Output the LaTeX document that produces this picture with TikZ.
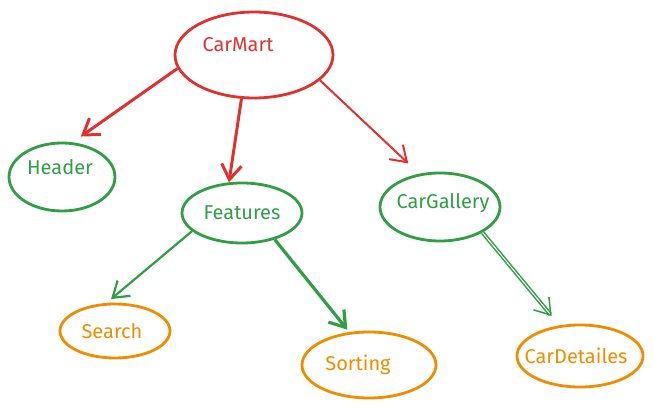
\documentclass[tikz,border=0pt]{standalone}
\usepackage{fontspec}
\setmainfont{Fira Sans}
\usepackage{xcolor}
\usetikzlibrary{shapes.geometric,arrows.meta}
\definecolor{xred}{HTML}{E03131}
\definecolor{xgreen}{HTML}{2F9E44}
\definecolor{xorange}{HTML}{F08C00}
\tikzset{
  bubble/.style={ellipse, draw, line width=2.8pt, inner sep=0pt},
  link/.style={-{Straight Barb[length=15pt,width=20pt]}, line width=2.2pt},
}

\begin{document}
\begin{tikzpicture}[x=1pt,y=-1pt,font=\fontsize{20}{24}\selectfont]
            \useasboundingbox (0,0) rectangle (654,411);
            % top level
            \node [bubble, xred, minimum width=158pt, minimum height=86pt, label={[text=xred, xshift=-16pt, yshift=10pt]center:CarMart}] (carmart) at (254,55) {};
            % second level
            \node [bubble, xgreen, minimum width=106pt, minimum height=68pt, label={[text=xgreen, xshift=-2pt, yshift=10pt]center:Header}] (header) at (62,177) {};
            \node [bubble, xgreen, minimum width=120pt, minimum height=60pt, label={[text=xgreen]center:Features}] (features) at (242,213) {};
            \node [bubble, xgreen, minimum width=120pt, minimum height=68pt, label={[text=xgreen, xshift=3pt, yshift=4pt]center:CarGallery}] (cargallery) at (440,207) {};
            % third level
            \node [bubble, xorange, minimum width=110pt, minimum height=54pt, label={[text=xorange, xshift=-3pt]center:Search}] (search) at (115,331) {};
            \node [bubble, xorange, minimum width=134pt, minimum height=66pt, label={[text=xorange, xshift=-11pt]center:Sorting}] (sorting) at (369,365) {};
            \node [bubble, xorange, minimum width=126pt, minimum height=62pt, label={[text=xorange, xshift=-4pt]center:CarDetailes}] (cardetailes) at (580,356) {};
            % connectors
            \draw [link, xred, line width=3pt] (carmart.190) -- (header.73) [shorten >=10pt];
            \draw [link, xred, line width=3pt] (carmart.254) -- (features.113);
            \draw [link, xred, line width=2pt] (carmart.339) -- (cargallery.122) [shorten >=15pt];
            \draw [link, xgreen, line width=2.2pt] (features.200) -- (search.107) [shorten >=6pt];
            \draw [link, xgreen, line width=3.2pt] (features.321) -- (sorting.121) [shorten >=3pt];
            \draw [link, xgreen, double=white, double distance=1pt, line width=1.5pt] (cargallery.329) -- (cardetailes.124) [shorten >=12pt];
        \end{tikzpicture}
\end{document}
